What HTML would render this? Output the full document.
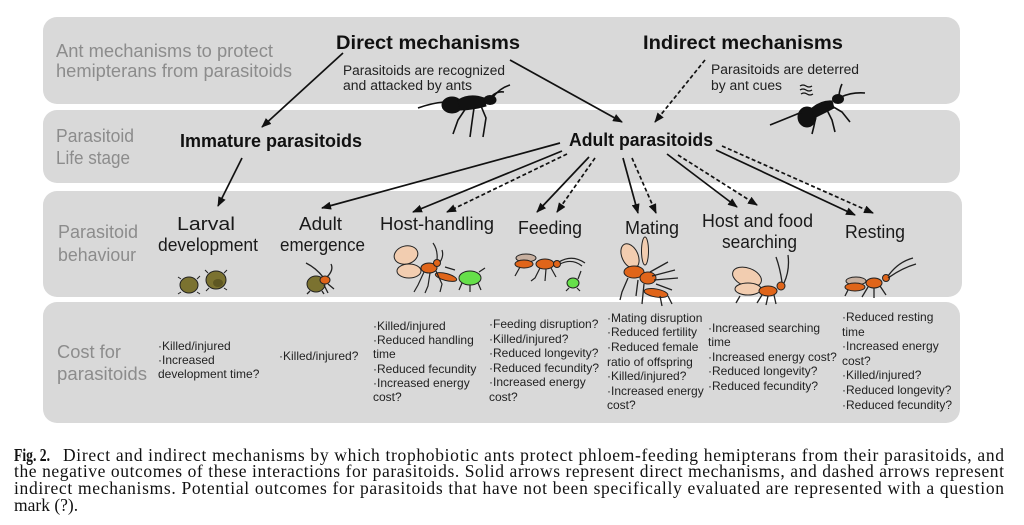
<!DOCTYPE html>
<html><head><meta charset="utf-8"><style>
html,body{margin:0;padding:0;background:#fff;}
svg{display:block;}
.side{font-family:"Liberation Sans",sans-serif;font-size:18px;fill:#8c8c8c;}
.hd{font-family:"Liberation Sans",sans-serif;font-weight:bold;fill:#111;}
.lb{font-family:"Liberation Sans",sans-serif;font-size:18px;fill:#1a1a1a;}
.sm{font-family:"Liberation Sans",sans-serif;font-size:13.5px;fill:#222;}
.c{font-family:"Liberation Sans",sans-serif;font-size:12px;fill:#222;}
.cap{font-family:"Liberation Serif",serif;font-size:17.5px;fill:#111;}
</style></head><body>
<svg width="1024" height="525" viewBox="0 0 1024 525" xmlns="http://www.w3.org/2000/svg">
<defs>
<marker id="ah" markerUnits="userSpaceOnUse" markerWidth="10" markerHeight="8" refX="9" refY="4" orient="auto">
<path d="M0,0 L10,4 L0,8 Z" fill="#111"/>
</marker>
</defs>
<rect width="1024" height="525" fill="#fff"/>
<!-- bands -->
<rect x="43" y="17" width="917" height="87" rx="14" fill="#d9d9d9"/>
<rect x="43" y="110" width="917" height="73" rx="14" fill="#d9d9d9"/>
<rect x="43" y="191" width="919" height="106" rx="14" fill="#d9d9d9"/>
<rect x="43" y="302" width="917" height="121" rx="14" fill="#d9d9d9"/>

<!-- band 1 -->
<text class="side" x="56" y="57" textLength="217" lengthAdjust="spacingAndGlyphs">Ant mechanisms to protect</text>
<text class="side" x="56" y="77" textLength="236" lengthAdjust="spacingAndGlyphs">hemipterans from parasitoids</text>
<text class="hd" x="336" y="49" font-size="19" textLength="184" lengthAdjust="spacingAndGlyphs">Direct mechanisms</text>
<text class="hd" x="643" y="49" font-size="19" textLength="200" lengthAdjust="spacingAndGlyphs">Indirect mechanisms</text>
<text class="sm" x="343" y="75" textLength="162" lengthAdjust="spacingAndGlyphs">Parasitoids are recognized</text>
<text class="sm" x="343" y="90" textLength="129" lengthAdjust="spacingAndGlyphs">and attacked by ants</text>
<text class="sm" x="711" y="74" textLength="148" lengthAdjust="spacingAndGlyphs">Parasitoids are deterred</text>
<text class="sm" x="711" y="90" textLength="71" lengthAdjust="spacingAndGlyphs">by ant cues</text>

<!-- band 2 -->
<text class="side" x="56" y="142" textLength="78" lengthAdjust="spacingAndGlyphs">Parasitoid</text>
<text class="side" x="56" y="164" textLength="74" lengthAdjust="spacingAndGlyphs">Life stage</text>
<text class="hd" x="180" y="147" font-size="18" textLength="182" lengthAdjust="spacingAndGlyphs">Immature parasitoids</text>
<text class="hd" x="569" y="146" font-size="18" textLength="144" lengthAdjust="spacingAndGlyphs">Adult parasitoids</text>

<!-- band 3 -->
<text class="side" x="58" y="238" textLength="80" lengthAdjust="spacingAndGlyphs">Parasitoid</text>
<text class="side" x="58" y="261" textLength="78" lengthAdjust="spacingAndGlyphs">behaviour</text>
<text class="lb" x="177" y="230" textLength="58" lengthAdjust="spacingAndGlyphs">Larval</text>
<text class="lb" x="158" y="251" textLength="100" lengthAdjust="spacingAndGlyphs">development</text>
<text class="lb" x="299" y="230" textLength="43" lengthAdjust="spacingAndGlyphs">Adult</text>
<text class="lb" x="280" y="251" textLength="85" lengthAdjust="spacingAndGlyphs">emergence</text>
<text class="lb" x="380" y="230" textLength="114" lengthAdjust="spacingAndGlyphs">Host-handling</text>
<text class="lb" x="518" y="234" textLength="64" lengthAdjust="spacingAndGlyphs">Feeding</text>
<text class="lb" x="625" y="234" textLength="54" lengthAdjust="spacingAndGlyphs">Mating</text>
<text class="lb" x="702" y="227" textLength="111" lengthAdjust="spacingAndGlyphs">Host and food</text>
<text class="lb" x="722" y="248" textLength="75" lengthAdjust="spacingAndGlyphs">searching</text>
<text class="lb" x="845" y="238" textLength="60" lengthAdjust="spacingAndGlyphs">Resting</text>

<!-- band 4 -->
<text class="side" x="57" y="358" font-size="19" textLength="64" lengthAdjust="spacingAndGlyphs">Cost for</text>
<text class="side" x="57" y="380" font-size="19" textLength="90" lengthAdjust="spacingAndGlyphs">parasitoids</text>

<g class="c">
<text class="c" x="158" y="350">·Killed/injured</text>
<text class="c" x="158" y="364">·Increased</text>
<text class="c" x="158" y="378">development time?</text>

<text class="c" x="279" y="360">·Killed/injured?</text>

<text class="c" x="373" y="330">·Killed/injured</text>
<text class="c" x="373" y="344">·Reduced handling</text>
<text class="c" x="373" y="358">time</text>
<text class="c" x="373" y="373">·Reduced fecundity</text>
<text class="c" x="373" y="387">·Increased energy</text>
<text class="c" x="373" y="401">cost?</text>

<text class="c" x="489" y="328">·Feeding disruption?</text>
<text class="c" x="489" y="343">·Killed/injured?</text>
<text class="c" x="489" y="357">·Reduced longevity?</text>
<text class="c" x="489" y="372">·Reduced fecundity?</text>
<text class="c" x="489" y="386">·Increased energy</text>
<text class="c" x="489" y="401">cost?</text>

<text class="c" x="607" y="322">·Mating disruption</text>
<text class="c" x="607" y="336">·Reduced fertility</text>
<text class="c" x="607" y="351">·Reduced female</text>
<text class="c" x="607" y="366">ratio of offspring</text>
<text class="c" x="607" y="380">·Killed/injured?</text>
<text class="c" x="607" y="395">·Increased energy</text>
<text class="c" x="607" y="409">cost?</text>

<text class="c" x="708" y="332">·Increased searching</text>
<text class="c" x="708" y="346">time</text>
<text class="c" x="708" y="361">·Increased energy cost?</text>
<text class="c" x="708" y="375">·Reduced longevity?</text>
<text class="c" x="708" y="390">·Reduced fecundity?</text>

<text class="c" x="842" y="321">·Reduced resting</text>
<text class="c" x="842" y="336">time</text>
<text class="c" x="842" y="350">·Increased energy</text>
<text class="c" x="842" y="365">cost?</text>
<text class="c" x="842" y="379">·Killed/injured?</text>
<text class="c" x="842" y="394">·Reduced longevity?</text>
<text class="c" x="842" y="409">·Reduced fecundity?</text>
</g>

<!-- arrows -->
<g stroke="#111" stroke-width="1.7" fill="none" marker-end="url(#ah)">
<line x1="343" y1="53" x2="262" y2="127"/>
<line x1="510" y1="60" x2="622" y2="122"/>
<line x1="705" y1="60" x2="655" y2="122" stroke-dasharray="4 2.5"/>
<line x1="242" y1="158" x2="218" y2="206"/>
<line x1="560" y1="143" x2="322" y2="208"/>
<line x1="562" y1="151" x2="413" y2="212"/>
<line x1="567" y1="154" x2="447" y2="212" stroke-dasharray="4 2.5"/>
<line x1="589" y1="157" x2="537" y2="212"/>
<line x1="595" y1="158" x2="557" y2="212" stroke-dasharray="4 2.5"/>
<line x1="623" y1="158" x2="638" y2="213"/>
<line x1="632" y1="158" x2="656" y2="213" stroke-dasharray="4 2.5"/>
<line x1="667" y1="154" x2="737" y2="207"/>
<line x1="678" y1="155" x2="757" y2="205" stroke-dasharray="4 2.5"/>
<line x1="716" y1="150" x2="855" y2="215"/>
<line x1="722" y1="146" x2="873" y2="213" stroke-dasharray="4 2.5"/>
</g>

<!-- ant 1 -->
<g fill="#111" stroke="#111">
<ellipse cx="452" cy="105" rx="10" ry="8"/>
<path d="M458,100 Q470,93 484,98 L486,106 Q472,110 460,110 Z"/>
<ellipse cx="490" cy="100" rx="6" ry="4.5"/>
<g fill="none" stroke-width="1.6">
<path d="M493,97 Q500,88 510,85"/>
<path d="M492,96 Q497,91 504,92"/>
<path d="M444,102 Q432,103 418,108"/>
<path d="M466,108 L458,120 L453,134"/>
<path d="M474,108 L472,122 L470,137"/>
<path d="M481,106 L486,118 L483,137"/>
</g>
</g>

<!-- ant 2 -->
<g fill="#111" stroke="#111">
<ellipse cx="807" cy="117" rx="9" ry="10"/>
<path d="M812,108 Q822,100 832,101 L834,108 Q824,113 814,118 Z"/>
<ellipse cx="838" cy="99" rx="5.5" ry="4.5"/>
<g fill="none" stroke-width="1.6">
<path d="M841,97 Q852,92 865,93"/>
<path d="M839,95 Q840,88 842,84"/>
<path d="M802,112 Q790,117 770,125"/>
<path d="M816,116 L814,126 L812,134"/>
<path d="M826,108 L832,120 L835,132"/>
<path d="M830,105 L842,112 L850,122"/>
<path d="M800,86 q3,-2 6,0 t6,0" stroke-width="1.2"/>
<path d="M800,90 q3,-2 6,0 t6,0" stroke-width="1.2"/>
<path d="M801,94 q3,-2 6,0 t6,0" stroke-width="1.2"/>
</g>
</g>

<!-- larval development mummies -->
<g stroke="#222" stroke-width="1">
<ellipse cx="189" cy="285" rx="9" ry="8" fill="#7b7230"/>
<ellipse cx="216" cy="280" rx="10" ry="9" fill="#7b7230"/>
<ellipse cx="218" cy="283" rx="5" ry="4" fill="#5e5722" stroke="none"/>
<path d="M181,279 l-3,-2 M197,279 l3,-3 M181,292 l-3,2 M197,292 l3,2 M208,273 l-3,-3 M224,273 l3,-3 M224,288 l3,2 M209,288 l-3,3" fill="none"/>
</g>
<!-- adult emergence -->
<g stroke="#222" stroke-width="1">
<ellipse cx="316" cy="284" rx="9" ry="8" fill="#7b7230"/>
<ellipse cx="325" cy="280" rx="5" ry="4" fill="#e0651a"/>
<path d="M323,277 Q316,268 306,263 M327,277 Q334,270 331,264 M324,285 l4,8 M328,284 l6,5 M310,291 l-3,3 M322,291 l2,3" fill="none" stroke-width="1.3"/>
</g>

<!-- host-handling -->
<g stroke="#222" stroke-width="1">
<ellipse cx="406" cy="255" rx="12" ry="9" fill="#f2cdb0" transform="rotate(-15 406 255)"/>
<ellipse cx="409" cy="271" rx="12" ry="7" fill="#f2cdb0"/>
<ellipse cx="429" cy="268" rx="8" ry="5" fill="#e0651a"/>
<ellipse cx="446" cy="277" rx="11" ry="3.5" fill="#e0651a" transform="rotate(15 446 277)"/>
<circle cx="437" cy="263" r="3.5" fill="#e0651a"/>
<ellipse cx="470" cy="278" rx="11" ry="7" fill="#66e04a"/>
<path d="M437,260 Q438,250 433,243 M440,262 Q444,256 442,250 M424,272 L418,285 L414,292 M430,273 L428,286 L425,293 M436,271 L442,284 L440,292 M462,283 l-3,7 M470,285 l0,7 M478,283 l3,7 M479,272 l6,-4 M455,270 l-10,-3" fill="none" stroke-width="1.2"/>
</g>

<!-- feeding -->
<g stroke="#222" stroke-width="1">
<ellipse cx="526" cy="258" rx="10" ry="4" fill="#c8b0a0"/>
<ellipse cx="524" cy="264" rx="9" ry="4" fill="#e0651a"/>
<ellipse cx="545" cy="264" rx="9" ry="5" fill="#e0651a"/>
<circle cx="557" cy="264" r="3.5" fill="#e0651a"/>
<ellipse cx="573" cy="283" rx="6" ry="5" fill="#66e04a"/>
<path d="M559,262 Q572,254 585,263 M560,264 Q572,258 582,266 M540,268 L535,278 L531,281 M546,269 L545,281 M551,268 L556,277 M520,267 L515,276 M578,279 l3,-8 M569,288 l-3,3 M577,288 l3,3" fill="none" stroke-width="1.2"/>
</g>

<!-- mating -->
<g stroke="#222" stroke-width="1">
<ellipse cx="630" cy="256" rx="8" ry="13" fill="#f2cdb0" transform="rotate(-25 630 256)"/>
<ellipse cx="645" cy="251" rx="3.5" ry="14" fill="#f2cdb0"/>
<ellipse cx="634" cy="272" rx="10" ry="6" fill="#e0651a"/>
<ellipse cx="648" cy="278" rx="8" ry="6" fill="#e0651a"/>
<ellipse cx="656" cy="293" rx="12" ry="4" fill="#e0651a" transform="rotate(10 656 293)"/>
<path d="M650,272 L668,262 M652,276 L675,270 M654,280 L678,278 M656,284 L672,290 M628,278 L622,292 L620,300 M638,280 L636,296 M644,284 L642,304 M660,296 L662,306 M668,296 L672,304" fill="none" stroke-width="1.3"/>
</g>

<!-- host & food searching -->
<g stroke="#222" stroke-width="1">
<ellipse cx="747" cy="277" rx="15" ry="9" fill="#f2cdb0" transform="rotate(20 747 277)"/>
<ellipse cx="748" cy="289" rx="13" ry="6" fill="#f2cdb0"/>
<ellipse cx="768" cy="291" rx="9" ry="5" fill="#e0651a"/>
<circle cx="781" cy="286" r="4" fill="#e0651a"/>
<path d="M782,282 Q780,268 776,257 M784,283 Q790,270 788,255 M762,295 L757,303 M768,296 L766,305 M774,295 L776,304 M740,296 L736,303" fill="none" stroke-width="1.3"/>
</g>

<!-- resting -->
<g stroke="#222" stroke-width="1">
<ellipse cx="856" cy="281" rx="10" ry="4" fill="#c8b0a0"/>
<ellipse cx="855" cy="287" rx="10" ry="4" fill="#e0651a"/>
<ellipse cx="874" cy="283" rx="8" ry="5" fill="#e0651a"/>
<circle cx="886" cy="278" r="3.5" fill="#e0651a"/>
<path d="M888,276 Q898,262 913,258 M888,278 Q902,268 916,264 M868,287 L862,297 M874,288 L874,298 M880,286 L886,295 M848,290 L845,296" fill="none" stroke-width="1.3"/>
</g>

<!-- caption -->
<text class="cap" x="14" y="461" font-weight="bold" font-size="17" textLength="36" lengthAdjust="spacingAndGlyphs">Fig. 2.</text>
<text class="cap" x="63" y="461" textLength="941" lengthAdjust="spacing">Direct and indirect mechanisms by which trophobiotic ants protect phloem-feeding hemipterans from their parasitoids, and</text>
<text class="cap" x="14" y="477" textLength="990" lengthAdjust="spacing">the negative outcomes of these interactions for parasitoids. Solid arrows represent direct mechanisms, and dashed arrows represent</text>
<text class="cap" x="14" y="494" textLength="990" lengthAdjust="spacing">indirect mechanisms. Potential outcomes for parasitoids that have not been specifically evaluated are represented with a question</text>
<text class="cap" x="14" y="511">mark (?).</text>
</svg>
</body></html>
